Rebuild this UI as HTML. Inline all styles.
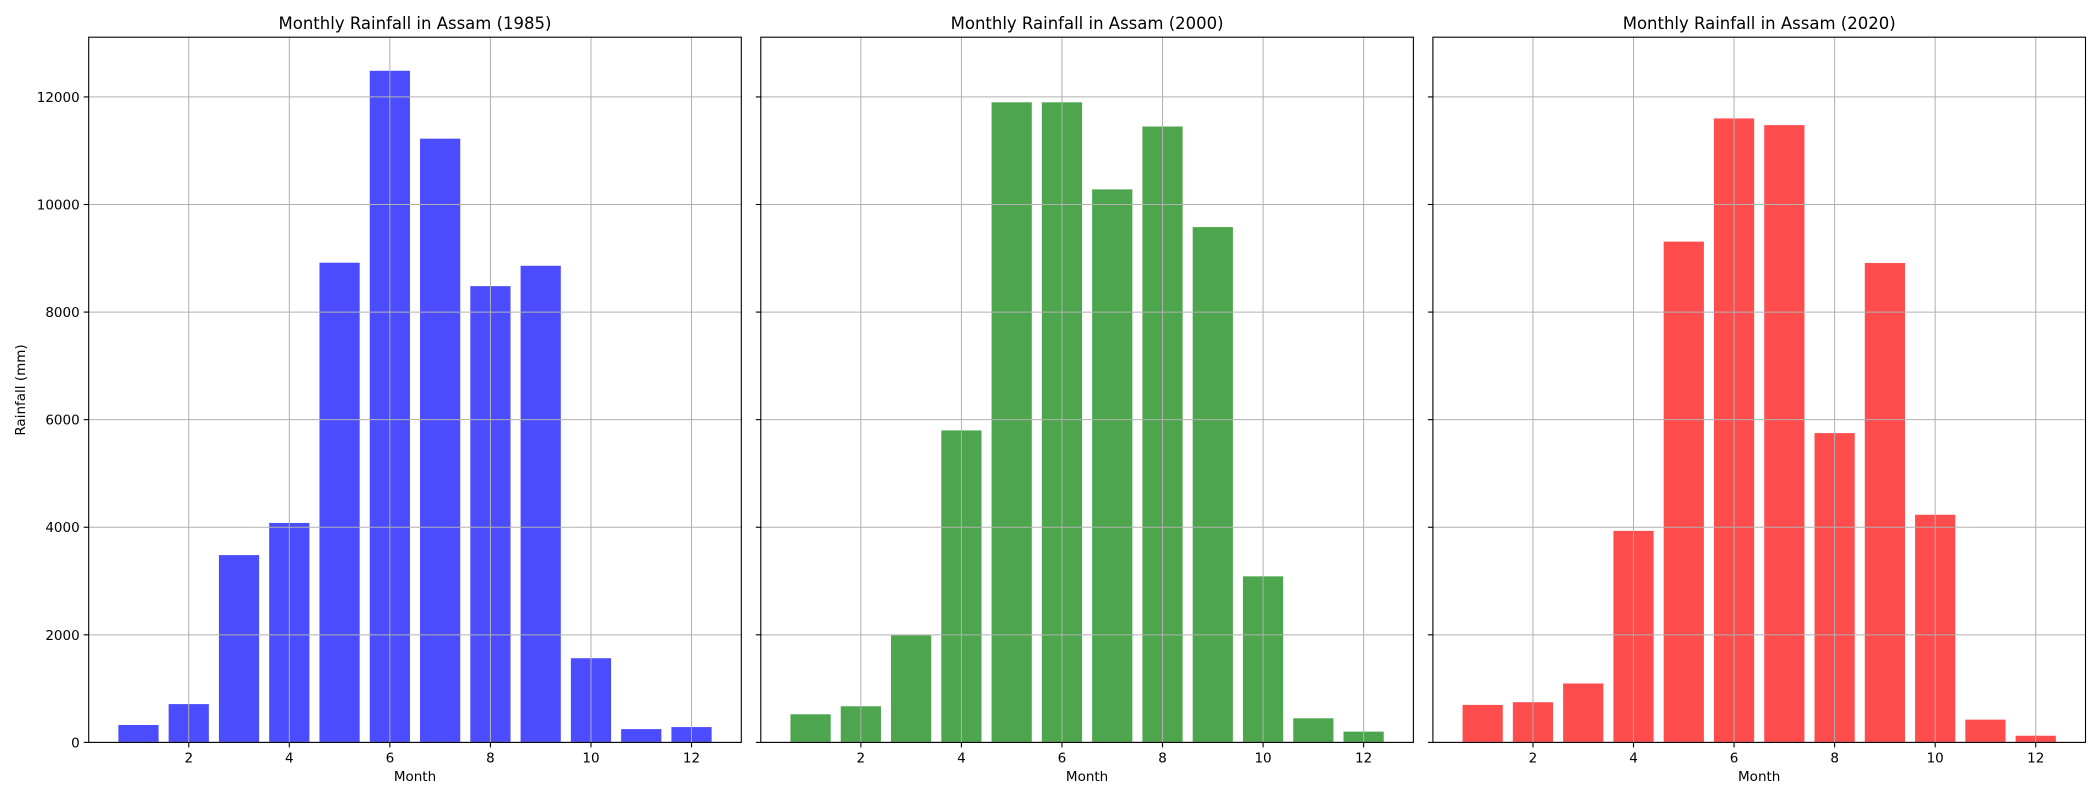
<!DOCTYPE html>
<html><head><meta charset="utf-8">
<style>
body{margin:0;background:#fff;}
svg text{font-family:"DejaVu Sans","Liberation Sans",sans-serif;fill:#000;}
</style></head>
<body>
<svg id="chart" xmlns="http://www.w3.org/2000/svg" width="2100" height="800" viewBox="0 0 2100 800"></svg>
<script>
const months = [1,2,3,4,5,6,7,8,9,10,11,12];
const years = ["1985","2000","2020"];
const rain1985 = [323,712,3482,4080,8918,12486,11224,8482,8861,1565,247,285];
const rain2000 = [523,672,1991,5800,11900,11900,10281,11450,9580,3087,448,200];
const rain2020 = [697,747,1095,3933,9310,11600,11476,5750,8912,4232,423,124];
const xTicks = [2,4,6,8,10,12];
const yTicks = [0,2000,4000,6000,8000,10000,12000];

const series = [rain1985, rain2000, rain2020];
const colors = ["#4c4cff","#4da64d","#ff4c4c"];
const NS = "http://www.w3.org/2000/svg";
const svgEl = document.getElementById("chart");
const panelLeft = [88.7, 760.8, 1432.9];
const W = 652.6, plotTop = 37.2, plotBottom = 742.4;
const xMin = 0.01, xMax = 12.99;
const yMax = Math.max(...series.flat()) * 1.05;
function mk(tag, attrs, parent){const e=document.createElementNS(NS,tag);for(const k in attrs)e.setAttribute(k,attrs[k]);(parent||svgEl).appendChild(e);return e;}
function yS(v){return plotBottom - v/yMax*(plotBottom-plotTop);}

series.forEach((data, p) => {
  const L = panelLeft[p];
  const xS = m => L + (m - xMin)/(xMax - xMin)*W;
  const g = mk("g",{});
  
  
  data.forEach((v,i) => {
    const m = months[i];
    const x0 = xS(m-0.4), x1 = xS(m+0.4);
    const r = mk("rect",{x:x0,y:yS(v),width:x1-x0,height:plotBottom-yS(v),fill:colors[p]},g);
    
    
  });
  xTicks.forEach(t => {
    const l = mk("line",{x1:xS(t),x2:xS(t),y1:plotTop,y2:plotBottom,stroke:"#b0b0b0","stroke-width":1},g);
    
    
  });
  yTicks.forEach(t => {
    const l = mk("line",{x1:L,x2:L+W,y1:yS(t),y2:yS(t),stroke:"#b0b0b0","stroke-width":1},g);
    
    
  });
  const f = mk("rect",{x:L,y:plotTop,width:W,height:plotBottom-plotTop,fill:"none",stroke:"#000","stroke-width":1.1},g);
  
  
  xTicks.forEach(t => {
    const tk = mk("line",{x1:xS(t),x2:xS(t),y1:plotBottom,y2:plotBottom+5,stroke:"#000","stroke-width":1.1},g);
    
    
    const tx = mk("text",{x:xS(t),y:plotBottom+20,"text-anchor":"middle","font-size":"13.5"},g);
    
    
    tx.textContent = t;
  });
  yTicks.forEach(t => {
    const tk = mk("line",{x1:L-5,x2:L,y1:yS(t),y2:yS(t),stroke:"#000","stroke-width":1.1},g);
    
    
    if (p === 0) {
      const tx = mk("text",{x:L-9,y:yS(t)+5,"text-anchor":"end","font-size":"13.5"},g);
      
      
      tx.textContent = t;
    }
  });
  const xl = mk("text",{x:L+W/2,y:781,"text-anchor":"middle","font-size":"13.5"},g);
  
  
  xl.textContent = "Month";
  const ti = mk("text",{x:L+W/2,y:29,"text-anchor":"middle","font-size":"16.5"},g);
  
  
  ti.textContent = "Monthly Rainfall in Assam (" + years[p] + ")";
});
const yl = mk("text",{x:0,y:0,"text-anchor":"middle","font-size":"13.5",transform:"translate(25,390) rotate(-90)"});


yl.textContent = "Rainfall (mm)";
</script>
</body></html>
